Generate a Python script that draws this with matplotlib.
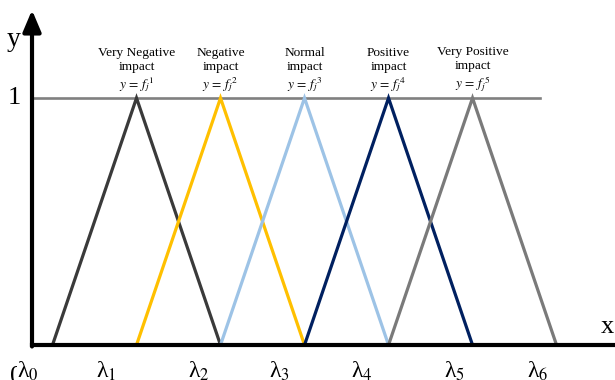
import matplotlib
matplotlib.use('Agg')
import matplotlib.pyplot as plt

plt.rcParams['mathtext.fontset'] = 'stix'
plt.rcParams['font.family'] = ['Liberation Serif', 'DejaVu Serif']

# breakpoints lambda_0 .. lambda_6 (unit spacing)
breakpoints = [0, 1, 2, 3, 4, 5, 6]
# where the lambda labels are printed (slightly left of each breakpoint)
lambda_label_x = [-0.29, 0.64, 1.74, 2.70, 3.68, 4.79, 5.78]
lambda_labels = ['\u03bb$_{%d}$' % i for i in range(7)]

categories = ['Very Negative\nimpact', 'Negative\nimpact', 'Normal\nimpact',
              'Positive\nimpact', 'Very Positive\nimpact']
colors = ['#3a3a3a', '#ffc000', '#9dc3e6', '#002060', '#7a7a7a']

fig = plt.figure(figsize=(6.15, 3.8), dpi=100)
ax = fig.add_axes([0, 0, 1, 1])
ax.set_xlim(-0.625, 6.696)
ax.set_ylim(-0.1417, 1.3968)
ax.axis('off')

x_axis_pos = -0.244

# membership-one level line
ax.plot([x_axis_pos, 5.80], [1, 1], color='#808080', lw=1.9, zorder=2)

# triangular membership functions
for k, (cat, col) in enumerate(zip(categories, colors)):
    xs = [breakpoints[k], breakpoints[k + 1], breakpoints[k + 2]]
    ax.plot(xs, [0, 1, 0], color=col, lw=2.3, zorder=3, solid_joinstyle='miter')
    ax.text(breakpoints[k + 1], 1.04, cat + '\n' + r'$y\,=\,{f_j}^{%d}$' % (k + 1),
            ha='center', va='baseline', fontsize=9.6, linespacing=1.2)

# axes
ax.plot([x_axis_pos, 6.75], [0, 0], color='black', lw=3, zorder=4,
        solid_capstyle='projecting')
ax.annotate('', xy=(x_axis_pos, 1.356), xytext=(x_axis_pos, -0.006),
            arrowprops=dict(arrowstyle='-|>,head_width=0.55,head_length=1.3',
                            lw=3, color='black', shrinkA=0, shrinkB=0),
            zorder=5)

ax.text(-0.458, 1.235, 'y', fontsize=20, ha='center', va='center')
ax.text(-0.458, 1.0, '1', fontsize=19, ha='center', va='center')
ax.text(6.60, 0.073, 'x', fontsize=19, ha='center', va='center')

# clipped "0" at origin, partly hidden behind lambda_0
ax.text(-0.43, -0.13, '0', fontsize=19, ha='center', va='center', zorder=1)
for lx, lab in zip(lambda_label_x, lambda_labels):
    ax.text(lx, -0.105, lab, fontsize=17, ha='center', va='center', zorder=6,
            bbox=dict(facecolor='white', edgecolor='none', pad=0.5))

fig.savefig('out.png', dpi=100)
